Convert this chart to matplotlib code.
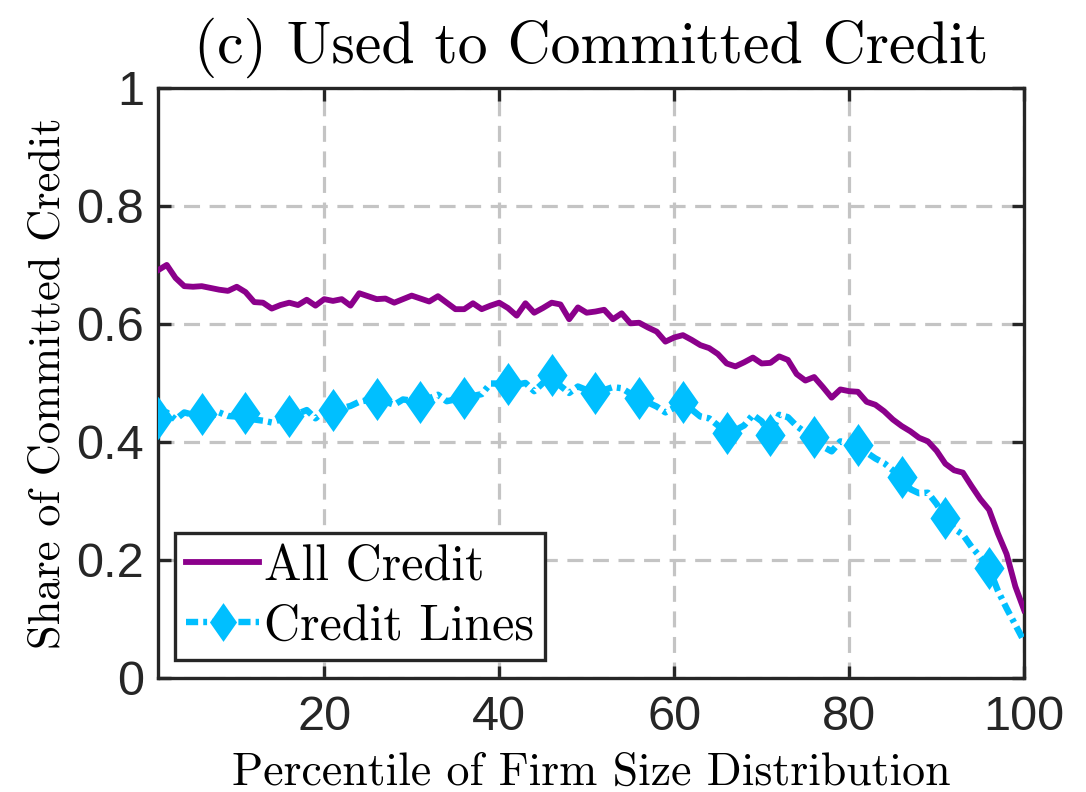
import matplotlib
matplotlib.use("Agg")
import matplotlib.pyplot as plt
from matplotlib.path import Path
import numpy as np

# percentile of firm size distribution
pct = list(range(1, 101))

all_credit = [
    0.691, 0.700, 0.678, 0.664, 0.663, 0.664, 0.661, 0.658, 0.656, 0.663,
    0.654, 0.637, 0.636, 0.626, 0.632, 0.636, 0.632, 0.641, 0.631, 0.642,
    0.639, 0.642, 0.631, 0.652, 0.647, 0.642, 0.643, 0.636, 0.642, 0.648,
    0.643, 0.638, 0.647, 0.636, 0.625, 0.625, 0.635, 0.625, 0.631, 0.636,
    0.627, 0.614, 0.635, 0.619, 0.627, 0.636, 0.633, 0.608, 0.628, 0.619,
    0.621, 0.624, 0.608, 0.618, 0.601, 0.602, 0.594, 0.587, 0.570, 0.577,
    0.581, 0.573, 0.564, 0.559, 0.549, 0.533, 0.528, 0.535, 0.543, 0.533,
    0.534, 0.545, 0.539, 0.515, 0.504, 0.510, 0.493, 0.475, 0.489, 0.486,
    0.485, 0.468, 0.463, 0.452, 0.438, 0.427, 0.418, 0.407, 0.401, 0.385,
    0.363, 0.352, 0.348, 0.325, 0.303, 0.285, 0.245, 0.210, 0.155, 0.115,
]

credit_lines = [
    0.440, 0.450, 0.438, 0.450, 0.446, 0.447, 0.443, 0.450, 0.444, 0.443,
    0.449, 0.438, 0.436, 0.433, 0.438, 0.444, 0.448, 0.454, 0.440, 0.452,
    0.454, 0.457, 0.461, 0.468, 0.471, 0.473, 0.468, 0.463, 0.472, 0.470,
    0.468, 0.474, 0.480, 0.469, 0.472, 0.475, 0.478, 0.481, 0.499, 0.499,
    0.498, 0.497, 0.500, 0.486, 0.500, 0.514, 0.495, 0.483, 0.494, 0.488,
    0.483, 0.488, 0.493, 0.491, 0.482, 0.474, 0.467, 0.460, 0.450, 0.458,
    0.468, 0.455, 0.443, 0.440, 0.428, 0.415, 0.420, 0.428, 0.446, 0.435,
    0.412, 0.446, 0.442, 0.427, 0.416, 0.409, 0.392, 0.384, 0.401, 0.398,
    0.395, 0.382, 0.372, 0.364, 0.352, 0.341, 0.320, 0.313, 0.314, 0.295,
    0.271, 0.253, 0.243, 0.222, 0.205, 0.186, 0.148, 0.118, 0.090, 0.062,
]

xticks = [20, 40, 60, 80, 100]
yticks = [0, 0.2, 0.4, 0.6, 0.8, 1]
ytick_labels = ["0", "0.2", "0.4", "0.6", "0.8", "1"]

serif = "cmr10"
sans = "Liberation Sans"
dark = "#262626"

# matlab style diamond, a bit taller than wide
diamond = Path([(0, 1), (0.7, 0), (0, -1), (-0.7, 0), (0, 1)],
               [Path.MOVETO, Path.LINETO, Path.LINETO, Path.LINETO, Path.CLOSEPOLY])

fig = plt.figure(figsize=(10.86, 7.92), dpi=100)
ax = fig.add_axes([0.1455, 0.144, 0.7975, 0.745])

ax.plot(pct, all_credit, color="#8B008B", lw=4.2, label="All Credit", zorder=3)
ax.plot(pct, credit_lines, color="#00BFFF", lw=4.6, dashes=(1.9, 0.8, 0.6, 0.8),
        marker=diamond, markersize=31, markevery=5, markeredgewidth=0,
        label="Credit Lines", zorder=4)

ax.set_xlim(1, 100)
ax.set_ylim(0, 1)
ax.set_xticks(xticks)
ax.set_xticklabels([str(t) for t in xticks], fontfamily=sans, fontsize=35, color=dark)
ax.set_yticks(yticks)
ax.set_yticklabels(ytick_labels, fontfamily=sans, fontsize=35, color=dark)

ax.grid(True, ls=(0, (5, 3)), color="#c4c4c4", lw=2.3)
ax.set_axisbelow(True)
ax.tick_params(direction="in", length=9, width=2.4, top=True, right=True,
               colors=dark)
ax.tick_params(axis="x", pad=12)
ax.tick_params(axis="y", pad=10)
for s in ax.spines.values():
    s.set_linewidth(2.4)
    s.set_color(dark)

ax.set_title("(c) Used to Committed Credit", fontfamily=serif, fontsize=43, pad=18)
ax.set_xlabel("Percentile of Firm Size Distribution", fontfamily=serif, fontsize=33,
              labelpad=9)
ax.set_ylabel("Share of Committed Credit", fontfamily=serif, fontsize=32, labelpad=6)

leg = ax.legend(loc="lower left", bbox_to_anchor=(0.02, 0.03),
                prop={"family": serif, "size": 36}, frameon=True, fancybox=False,
                handlelength=1.45, handletextpad=0.1, borderpad=0.22,
                labelspacing=0.28, borderaxespad=0, markerscale=0.9)
leg.get_frame().set_edgecolor(dark)
leg.get_frame().set_linewidth(2.4)
leg.get_frame().set_alpha(1)

fig.savefig("out.png", dpi=100)
